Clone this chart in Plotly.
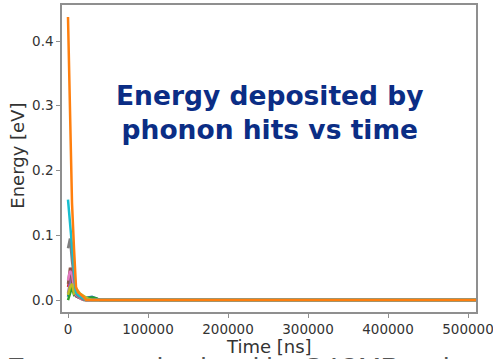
import plotly.graph_objects as go

# Time bins [ns]
time_ns = [0, 2500, 5000, 7500, 10000, 12500, 15000, 17500, 20000, 22500, 25000, 30000, 35000, 40000, 510000]

# Energy [eV] per event (matplotlib tab10 colour order)
series = {
    "blue":   [0.005, 0.020, 0.030, 0.012, 0.006, 0.005, 0.004, 0.002, 0.003, 0.003, 0.004, 0.005, 0.002, 0.0, 0.0],
    "green":  [0.000, 0.010, 0.020, 0.008, 0.010, 0.012, 0.008, 0.006, 0.004, 0.003, 0.003, 0.004, 0.003, 0.0, 0.0],
    "red":    [0.020, 0.038, 0.050, 0.020, 0.010, 0.006, 0.004, 0.002, 0.001, 0.0, 0.0, 0.0, 0.0, 0.0, 0.0],
    "purple": [0.010, 0.030, 0.045, 0.015, 0.007, 0.004, 0.003, 0.001, 0.0, 0.0, 0.0, 0.0, 0.0, 0.0, 0.0],
    "brown":  [0.025, 0.050, 0.030, 0.012, 0.006, 0.004, 0.002, 0.001, 0.0, 0.0, 0.0, 0.0, 0.0, 0.0, 0.0],
    "pink":   [0.030, 0.045, 0.040, 0.020, 0.008, 0.005, 0.003, 0.001, 0.0, 0.0, 0.0, 0.0, 0.0, 0.0, 0.0],
    "gray":   [0.080, 0.095, 0.060, 0.030, 0.010, 0.006, 0.004, 0.002, 0.0, 0.0, 0.0, 0.0, 0.0, 0.0, 0.0],
    "olive":  [0.008, 0.020, 0.025, 0.010, 0.012, 0.014, 0.010, 0.008, 0.005, 0.003, 0.002, 0.0, 0.0, 0.0, 0.0],
    "cyan":   [0.155, 0.118, 0.090, 0.045, 0.012, 0.008, 0.006, 0.004, 0.002, 0.0, 0.0, 0.0, 0.0, 0.0, 0.0],
    "orange": [0.437, 0.270, 0.150, 0.080, 0.020, 0.012, 0.010, 0.007, 0.004, 0.0, 0.0, 0.0, 0.0, 0.0, 0.0],
}
colors = {
    "blue": "#1f77b4", "orange": "#ff7f0e", "green": "#2ca02c", "red": "#d62728",
    "purple": "#9467bd", "brown": "#8c564b", "pink": "#e377c2", "gray": "#7f7f7f",
    "olive": "#bcbd22", "cyan": "#17becf",
}

x_ticks = [0, 100000, 200000, 300000, 400000, 500000]
y_ticks = [0.0, 0.1, 0.2, 0.3, 0.4]

fig = go.Figure()
for name, vals in series.items():
    fig.add_trace(go.Scatter(x=time_ns, y=vals, mode="lines",
                             line=dict(color=colors[name], width=2.5),
                             showlegend=False, hoverinfo="skip"))

spine = "#8f8f8f"
fig.update_layout(
    width=493, height=359,
    margin=dict(l=62, r=17, t=5, b=47, autoexpand=False),
    paper_bgcolor="white", plot_bgcolor="white",
    font=dict(family="DejaVu Sans", color="#333333"),
    xaxis=dict(range=[-7500, 510000], tickvals=x_ticks, tickformat="d",
               automargin=False, ticklabeloverflow="allow",
               showgrid=False, zeroline=False, showline=True, mirror=True,
               linecolor=spine, linewidth=1.5, ticks="outside", ticklen=4,
               tickcolor=spine, tickfont=dict(size=13.5, color="#333333")),
    yaxis=dict(range=[-0.0185, 0.4556], tickvals=y_ticks, tickformat=".1f",
               automargin=False,
               showgrid=False, zeroline=False, showline=True, mirror=True,
               linecolor=spine, linewidth=1.5, ticks="outside", ticklen=4,
               tickcolor=spine, tickfont=dict(size=13.5, color="#333333")),
    annotations=[
        dict(text="Events are simulated by G4CMP tool", xref="paper", yref="paper",
             x=-0.138, xanchor="left", y=-0.128, yanchor="top", showarrow=False,
             font=dict(family="Liberation Sans", size=27, color="#555555")),
        dict(text="<b>Energy deposited by<br>phonon hits vs time</b>",
             xref="paper", yref="paper", x=0.502, y=0.65, showarrow=False,
             font=dict(family="DejaVu Sans", size=26.5, color="#0b2d85"),
             align="center"),
        dict(text="Time [ns]", xref="paper", yref="paper", x=0.5, y=-0.113,
             yanchor="middle", showarrow=False,
             font=dict(family="DejaVu Sans", size=18, color="#333333")),
        dict(text="Energy [eV]", xref="paper", yref="paper", x=-0.108, y=0.51,
             xanchor="center", yanchor="middle", textangle=-90, showarrow=False,
             font=dict(family="DejaVu Sans", size=18, color="#333333")),
    ],
)

fig.write_html("out.html", config={"displayModeBar": False},
               post_script="document.body.style.margin='0';document.body.style.overflow='hidden';")
